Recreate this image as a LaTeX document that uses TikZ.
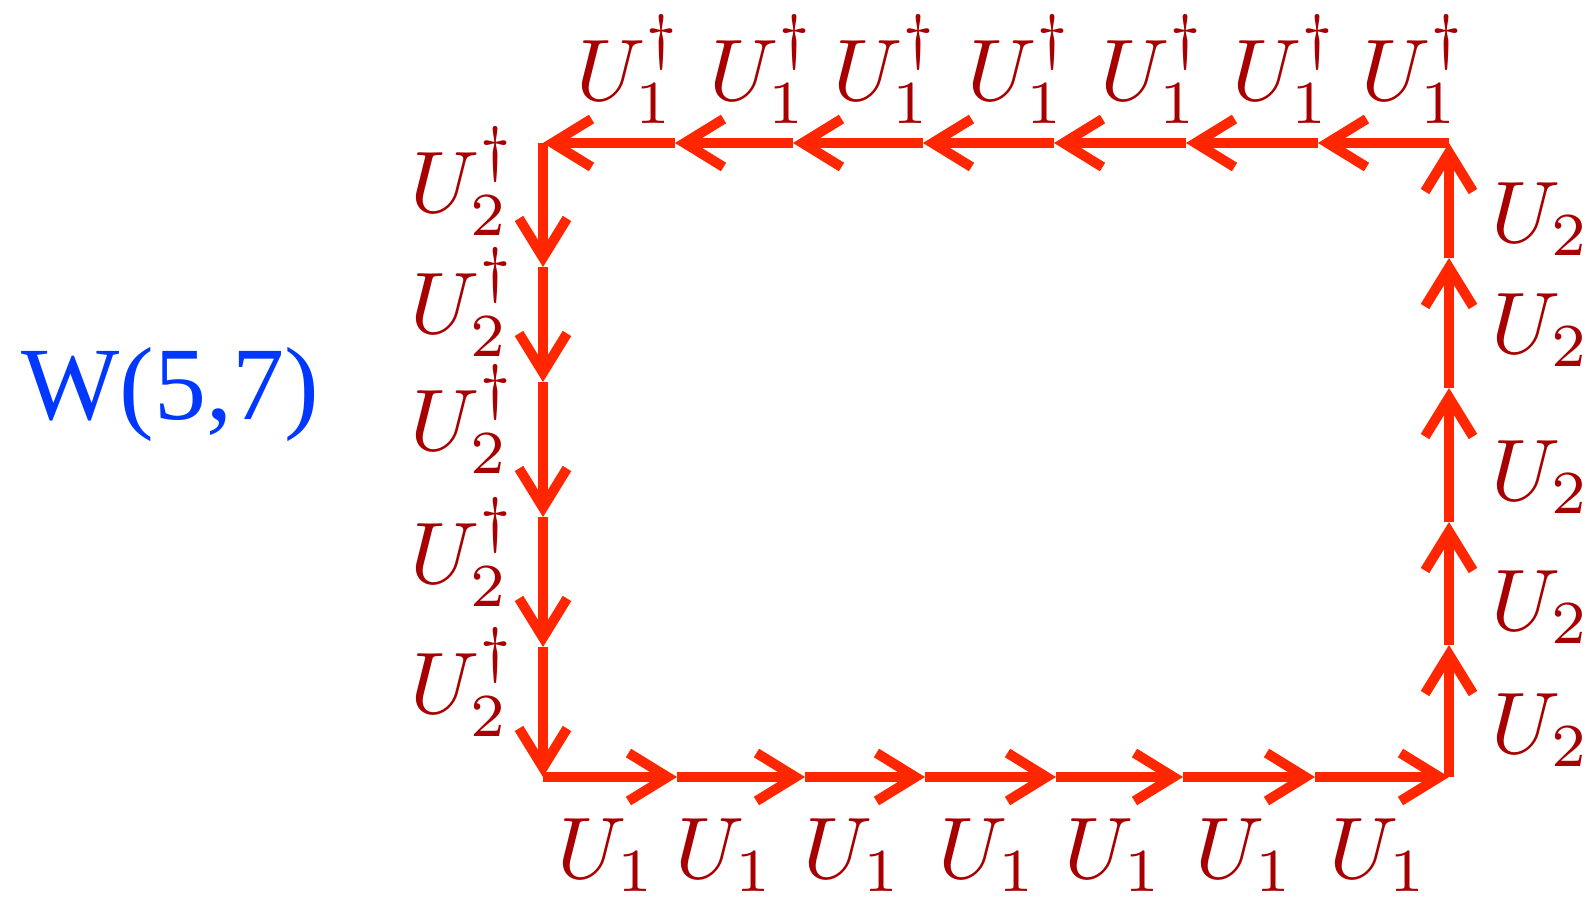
\documentclass[tikz,border=0pt]{standalone}
\usepackage{fontspec}
\usepackage{graphicx}
\newfontfamily\wfont{Liberation Serif}
\usetikzlibrary{arrows.meta}
\definecolor{linered}{RGB}{255,38,0}
\definecolor{labred}{RGB}{168,0,0}
\definecolor{wblue}{RGB}{0,56,255}
\newcommand{\biglab}[1]{\scalebox{2.488}{$#1$}}
\begin{document}
\begin{tikzpicture}[x=0.1mm,y=-0.1mm,
  seg/.style={draw=linered, line width=1mm, line cap=butt,
    -{Straight Barb[length=3.9mm,width=4.8mm]}},
  lab/.style={text=labred, inner sep=0pt},
  title/.style={text=wblue, inner sep=0pt, font=\wfont\fontsize{29.6}{34}\selectfont}]
\useasboundingbox (0,0) rectangle (1586,897);
% path vertices
\foreach \x [count=\i from 0] in {543,677,805,925,1056,1183,1315,1449}
  \coordinate (b\i) at (\x,777);
\foreach \y [count=\i from 0] in {777,645,522,388,258,143}
  \coordinate (r\i) at (1449,\y);
\foreach \x [count=\i from 0] in {1449,1318,1186,1054,923,793,675,543}
  \coordinate (t\i) at (\x,143);
\foreach \y [count=\i from 0] in {143,267,382,517,647,777}
  \coordinate (l\i) at (543,\y);
% segments
\foreach \i [evaluate=\i as \j using int(\i+1)] in {0,...,6}
  \draw[seg] (b\i) -- (b\j);
\foreach \i [evaluate=\i as \j using int(\i+1)] in {0,...,4}
  \draw[seg] (r\i) -- (r\j);
\foreach \i [evaluate=\i as \j using int(\i+1)] in {0,...,6}
  \draw[seg] (t\i) -- (t\j);
\foreach \i [evaluate=\i as \j using int(\i+1)] in {0,...,4}
  \draw[seg] (l\i) -- (l\j);
% labels
\foreach \x [count=\i] in {629,762,886,1020,1153,1285,1414}
  \node[lab, anchor=base] (tl\i) at (\x,100) {\biglab{U_1^\dagger}};
\foreach \x [count=\i] in {607,725,853,988,1114,1245,1379}
  \node[lab, anchor=base] (bl\i) at (\x,878) {\biglab{U_1}};
\foreach \y [count=\i] in {212,333,450,583,713}
  \node[lab, anchor=base west] (ll\i) at (410,\y) {\biglab{U_2^\dagger}};
\foreach \y [count=\i] in {242,353,500,630,753}
  \node[lab, anchor=base west] (rl\i) at (1491,\y) {\biglab{U_2}};
\node[title, anchor=base] (W) at (170,419) {W(5,7)};
\end{tikzpicture}
\end{document}
